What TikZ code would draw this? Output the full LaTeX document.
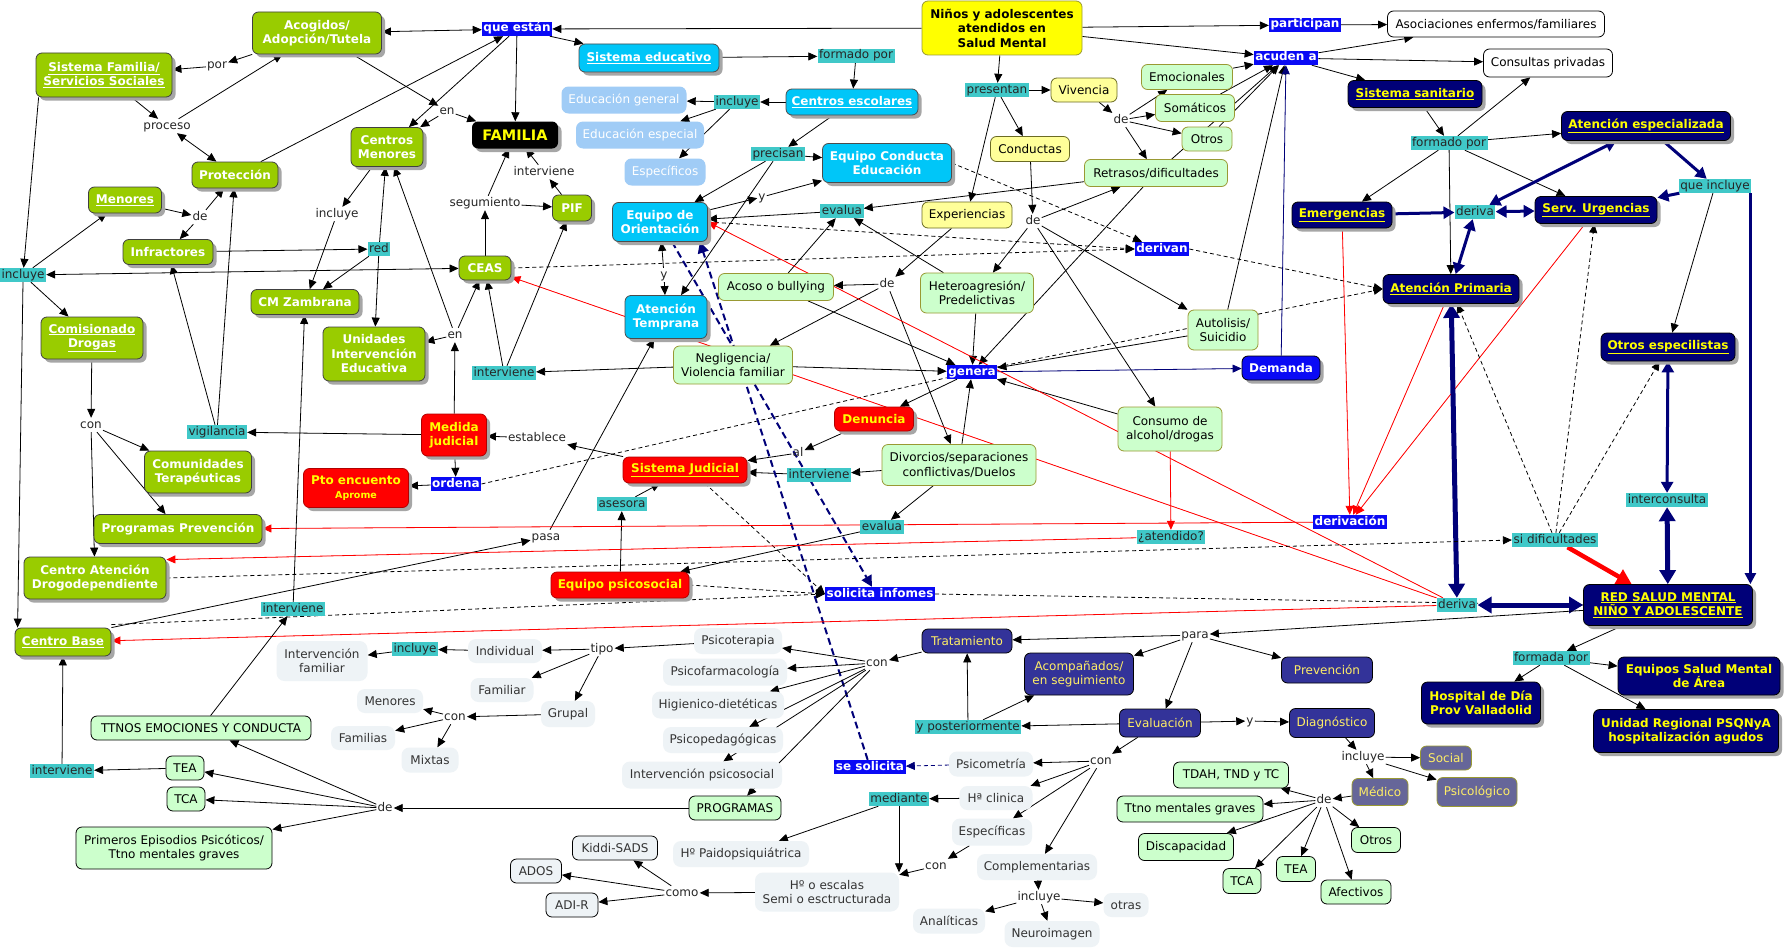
\documentclass[tikz,border=0pt]{standalone}
\usepackage{fontspec}
\setmainfont{DejaVu Sans}
\usetikzlibrary{arrows.meta,shadows,backgrounds}
\definecolor{cgreen}{HTML}{99CC00}
\definecolor{ccyan}{HTML}{00C6F8}
\definecolor{clblue}{HTML}{A0CCF6}
\definecolor{cyellow}{HTML}{FFFF00}
\definecolor{clyellow}{HTML}{FFFF99}
\definecolor{clgreen}{HTML}{CCFFCC}
\definecolor{colive}{HTML}{999933}
\definecolor{cred}{HTML}{FF0000}
\definecolor{cnavy}{HTML}{000078}
\definecolor{cmnavy}{HTML}{333399}
\definecolor{cgp}{HTML}{666699}
\definecolor{cpale}{HTML}{EEF3F6}
\definecolor{cteal}{HTML}{40C8C8}
\definecolor{cblue}{HTML}{0A0AF5}
\definecolor{cyel}{HTML}{FFFF00}
\definecolor{cyelb}{HTML}{FFEE66}
\newcommand\fs{\fontsize{12}{14.5}\selectfont}
\newcommand\bfs{\fontsize{12}{14.5}\selectfont\bfseries}
\newcommand\bfam{\fontsize{14.5}{17}\selectfont\bfseries}
\newcommand\mkC[7]{\node[#1,minimum width=#5pt,minimum height=#6pt] (#2) at (#3,#4) {#7};}
\newcommand\mkL[5]{\node[#1] (#2) at (#3,#4) {#5};}
\tikzset{
 con/.style={rounded corners=6pt,align=center,inner sep=2pt,font=\fs},
 shad/.style={drop shadow={shadow xshift=3.5pt,shadow yshift=-3.5pt,fill=black!35,opacity=1}},
 gC/.style={con,shad,fill=cgreen,draw=black!75,line width=0.8pt,text=white,font=\bfs},
 cyC/.style={con,shad,fill=ccyan,draw=black!70,line width=0.8pt,text=white,font=\bfs},
 lbC/.style={con,fill=clblue,text=white,rounded corners=7pt},
 yC/.style={con,fill=cyellow,draw=colive,line width=0.8pt,text=black,font=\bfs},
 lyC/.style={con,fill=clyellow,draw=colive!70!black,line width=0.8pt,text=black},
 lgC/.style={con,fill=clgreen,draw=colive,line width=0.8pt,text=black},
 lgkC/.style={con,fill=clgreen,draw=black,line width=0.8pt,text=black},
 rC/.style={con,shad,fill=cred,draw=cred!70!black,line width=0.8pt,text=cyel,font=\bfs},
 nC/.style={con,shad,fill=cnavy,draw=black,line width=0.8pt,text=cyel,font=\bfs},
 mnC/.style={con,fill=cmnavy,draw=black,line width=0.8pt,text=cyelb},
 gpC/.style={con,fill=cgp,draw=colive,line width=0.8pt,text=cyelb},
 wC/.style={con,fill=white,draw=black,line width=0.8pt,text=black},
 pC/.style={con,fill=cpale,text=black!80,rounded corners=8pt},
 pkC/.style={con,fill=cpale,draw=black,line width=0.8pt,text=black!80},
 kC/.style={con,shad,fill=black,text=cyel,font=\bfam},
 bC/.style={con,shad,fill=cblue,draw=black,line width=0.8pt,text=white,font=\bfs},
 lt/.style={fill=cteal,inner xsep=1.5pt,inner ysep=1pt,text height=9pt,text depth=3pt,font=\fs,text=black!85},
 lb/.style={fill=cblue,inner xsep=1.5pt,inner ysep=1pt,text height=9pt,text depth=3pt,font=\bfs,text=white},
 lp/.style={inner xsep=1pt,inner ysep=1pt,text height=9pt,text depth=3pt,font=\fs,text=black!85},
 ar/.style={draw=black,line width=0.8pt,-{Triangle[length=9pt,width=8pt]}},
 ar2/.style={draw=black,line width=0.8pt,{Triangle[length=9pt,width=8pt]}-{Triangle[length=9pt,width=8pt]}},
 dar/.style={ar,dash pattern=on 4pt off 3pt},
 dln/.style={draw=black,line width=0.8pt,dash pattern=on 4pt off 3pt},
 rar/.style={draw=cred,line width=0.8pt,-{Triangle[length=9pt,width=8pt]},fill=cred},
 arn/.style={draw=cnavy,line width=0.8pt,-{Triangle[length=9pt,width=8pt]},fill=cnavy},
 nav/.style={draw=cnavy,line width=3pt,-{Triangle[length=11pt,width=12pt]}},
 nav2/.style={draw=cnavy,line width=3pt,{Triangle[length=11pt,width=12pt]}-{Triangle[length=11pt,width=12pt]}},
 navb2/.style={draw=cnavy,line width=5pt,{Triangle[length=14pt,width=16pt]}-{Triangle[length=14pt,width=16pt]}},
 navd/.style={draw=cnavy,line width=2pt,dash pattern=on 7pt off 4pt,-{Triangle[length=11pt,width=11pt]}},
 navdt/.style={draw=cnavy,line width=0.8pt,dash pattern=on 4pt off 3pt,-{Triangle[length=9pt,width=8pt]}},
 rthick/.style={draw=cred,line width=4.5pt,-{Triangle[length=15pt,width=16pt]}},
}
\begin{document}
\begin{tikzpicture}[x=1pt,y=-1pt]
\useasboundingbox (0,0) rectangle (1785,950);
% ---- green concepts
\mkC{gC}{acog}{317}{33}{129}{42}{Acogidos/\\Adopción/Tutela}
\mkC{gC}{sfam}{104}{75}{136}{44}{\underline{Sistema Familia/}\\\underline{Servicios Sociales}}
\mkC{gC}{prot}{235}{175}{86}{26}{Protección}
\mkC{gC}{cmen}{387}{147}{72}{39}{Centros\\Menores}
\mkC{gC}{menores}{125}{200}{73}{26}{\underline{Menores}}
\mkC{gC}{infr}{168}{252}{90}{25}{Infractores}
\mkC{gC}{cmz}{305}{302}{108}{25}{CM Zambrana}
\mkC{gC}{ceas}{485}{268}{52}{24}{CEAS}
\mkC{gC}{pif}{572}{208}{39}{26}{PIF}
\mkC{gC}{comis}{92}{338}{102}{42}{\underline{Comisionado}\\\underline{Drogas}}
\mkC{gC}{uie}{374}{354}{102}{54}{Unidades\\Intervención\\Educativa}
\mkC{gC}{comt}{198}{472}{107}{42}{Comunidades\\Terapéuticas}
\mkC{gC}{progp}{178}{529}{168}{29}{Programas Prevención}
\mkC{gC}{cad}{95}{578}{142}{42}{Centro Atención\\Drogodependiente}
\mkC{gC}{cbase}{63}{642}{96}{28}{\underline{Centro Base}}
\mkC{kC}{familia}{515}{135}{86}{27}{FAMILIA}
% ---- cyan
\mkC{cyC}{sised}{649}{58}{140}{28}{\underline{Sistema educativo}}
\mkC{cyC}{cesc}{852}{102}{132}{26}{\underline{Centros escolares}}
\mkC{cyC}{ece}{887}{163}{129}{39}{Equipo Conducta\\Educación}
\mkC{cyC}{eo}{660}{222}{95}{39}{Equipo de\\Orientación}
\mkC{cyC}{at}{666}{317}{82}{43}{Atención\\Temprana}
\mkC{lbC}{edg}{624}{100}{125}{27}{Educación general}
\mkC{lbC}{ede}{640}{135}{128}{27}{Educación especial}
\mkC{lbC}{espec}{665}{172}{81}{27}{Específicos}
% ---- yellow
\mkC{yC}{ninos}{1002}{28}{160}{54}{Niños y adolescentes\\atendidos en\\Salud Mental}
\mkC{lyC}{viv}{1084}{90}{66}{24}{Vivencia}
\mkC{lyC}{cond}{1030}{149}{79}{25}{Conductas}
\mkC{lyC}{exper}{967}{215}{90}{26}{Experiencias}
% ---- light green
\mkC{lgC}{emoc}{1187}{77}{91}{25}{Emocionales}
\mkC{lgC}{somat}{1195}{108}{79}{27}{Somáticos}
\mkC{lgC}{otros1}{1207}{139}{50}{24}{Otros}
\mkC{lgC}{retr}{1156}{173}{143}{27}{Retrasos/dificultades}
\mkC{lgC}{acoso}{776}{287}{115}{27}{Acoso o bullying}
\mkC{lgC}{hetero}{977}{293}{113}{40}{Heteroagresión/\\Predelictivas}
\mkC{lgC}{autol}{1223}{330}{70}{40}{Autolisis/\\Suicidio}
\mkC{lgC}{negl}{733}{365}{119}{38}{Negligencia/\\Violencia familiar}
\mkC{lgC}{divor}{959}{465}{154}{41}{Divorcios/separaciones\\conflictivas/Duelos}
\mkC{lgC}{consumo}{1170}{429}{104}{44}{Consumo de\\alcohol/drogas}
\mkC{lgkC}{ttnos}{201}{728}{220}{24}{TTNOS EMOCIONES Y CONDUCTA}
\mkC{lgkC}{tea1}{185}{768}{38}{24}{TEA}
\mkC{lgkC}{tca1}{186}{799}{38}{24}{TCA}
\mkC{lgkC}{prim}{174}{848}{196}{42}{Primeros Episodios Psicóticos/\\Ttno mentales graves}
\mkC{lgkC}{progr}{735}{808}{92}{24}{PROGRAMAS}
\mkC{lgkC}{tdah}{1231}{775}{115}{26}{TDAH, TND y TC}
\mkC{lgkC}{ttnom}{1190}{809}{146}{26}{Ttno mentales graves}
\mkC{lgkC}{discap}{1186}{847}{95}{27}{Discapacidad}
\mkC{lgkC}{tca2}{1242}{881}{38}{25}{TCA}
\mkC{lgkC}{tea2}{1296}{869}{39}{25}{TEA}
\mkC{lgkC}{afect}{1356}{892}{70}{24}{Afectivos}
\mkC{lgkC}{otros2}{1376}{840}{49}{25}{Otros}
% ---- red
\mkC{rC}{medj}{454}{435}{65}{42}{Medida\\judicial}
\mkC{rC}{pto}{356}{488}{105}{39}{Pto encuento\\{\fontsize{9.5}{11}\selectfont Aprome}}
\mkC{rC}{denun}{874}{419}{79}{24}{Denuncia}
\mkC{rC}{sjud}{685}{470}{124}{26}{\underline{Sistema Judicial}}
\mkC{rC}{epsic}{620}{585}{138}{26}{Equipo psicosocial}
\mkC{bC}{demanda}{1281}{368}{78}{24}{Demanda}
% ---- white
\mkC{wC}{asoc}{1496}{24}{217}{26}{Asociaciones enfermos/familiares}
\mkC{wC}{consp}{1548}{63}{129}{28}{Consultas privadas}
% ---- navy
\mkC{nC}{ssan}{1415}{94}{134}{27}{\underline{Sistema sanitario}}
\mkC{nC}{aesp}{1646}{126}{169}{29}{\underline{Atención especializada}}
\mkC{nC}{emerg}{1342}{215}{100}{26}{\underline{Emergencias}}
\mkC{nC}{surg}{1596}{210}{122}{27}{\underline{Serv. Urgencias}}
\mkC{nC}{aprim}{1451}{289}{136}{29}{\underline{Atención Primaria}}
\mkC{nC}{oesp}{1668}{347}{134}{28}{\underline{Otros especilistas}}
\mkC{nC}{red}{1668}{605}{169}{41}{\underline{RED SALUD MENTAL}\\\underline{NIÑO Y ADOLESCENTE}}
\mkC{nC}{esm}{1699}{676}{162}{38}{Equipos Salud Mental\\de Área}
\mkC{nC}{hdia}{1481}{703}{119}{42}{Hospital de Día\\Prov Valladolid}
\mkC{nC}{ureg}{1686}{731}{185}{43}{Unidad Regional PSQNyA\\hospitalización agudos}
\mkC{mnC}{trat}{967}{641}{90}{24}{Tratamiento}
\mkC{mnC}{acomp}{1079}{674}{109}{42}{Acompañados/\\en seguimiento}
\mkC{mnC}{evalu}{1160}{723}{81}{28}{Evaluación}
\mkC{mnC}{diagn}{1332}{723}{85}{29}{Diagnóstico}
\mkC{mnC}{prev}{1327}{670}{91}{26}{Prevención}
\mkC{gpC}{social}{1446}{758}{51}{24}{Social}
\mkC{gpC}{medico}{1380}{792}{56}{27}{Médico}
\mkC{gpC}{psicol}{1477}{792}{80}{29}{Psicológico}
% ---- pale
\mkC{pC}{intfam}{322}{661}{91}{40}{Intervención\\familiar}
\mkC{pC}{gmen}{390}{701}{66}{24}{Menores}
\mkC{pC}{gfam}{363}{738}{64}{24}{Familias}
\mkC{pC}{gmix}{430}{760}{57}{25}{Mixtas}
\mkC{pC}{indiv}{505}{651}{74}{24}{Individual}
\mkC{pC}{gfamiliar}{502}{690}{63}{24}{Familiar}
\mkC{pC}{grupal}{568}{714}{54}{26}{Grupal}
\mkC{pC}{psicot}{738}{641}{88}{26}{Psicoterapia}
\mkC{pC}{psicof}{725}{672}{124}{27}{Psicofarmacología}
\mkC{pC}{higien}{718}{705}{132}{27}{Higienico-dietéticas}
\mkC{pC}{psicop}{723}{740}{120}{26}{Psicopedagógicas}
\mkC{pC}{intps}{702}{775}{160}{27}{Intervención psicosocial}
\mkC{pC}{hpaido}{741}{854}{136}{26}{Hº Paidopsiquiátrica}
\mkC{pC}{hesc}{827}{892}{144}{39}{Hº o escalas\\Semi o esctructurada}
\mkC{pC}{psicom}{991}{764}{84}{25}{Psicometría}
\mkC{pC}{hclin}{996}{798}{73}{24}{Hª clinica}
\mkC{pC}{especif}{992}{832}{80}{27}{Específicas}
\mkC{pC}{compl}{1037}{867}{120}{26}{Complementarias}
\mkC{pC}{otras}{1126}{905}{45}{24}{otras}
\mkC{pC}{analit}{949}{921}{72}{25}{Analíticas}
\mkC{pC}{neuro}{1052}{934}{95}{26}{Neuroimagen}
\mkC{pkC}{kiddi}{615}{848}{85}{24}{Kiddi-SADS}
\mkC{pkC}{ados}{536}{871}{51}{24}{ADOS}
\mkC{pkC}{adir}{572}{905}{52}{24}{ADI-R}
% ---- linking phrases teal
\mkL{lt}{incl1}{23}{275}{incluye}
\mkL{lt}{red1}{379}{249}{red}
\mkL{lt}{precisan}{778}{154}{precisan}
\mkL{lt}{incl2}{737}{102}{incluye}
\mkL{lt}{formado1}{856}{56}{formado por}
\mkL{lt}{evalua1}{842}{211}{evalua}
\mkL{lt}{presentan}{997}{90}{presentan}
\mkL{lt}{vigil}{217}{432}{vigilancia}
\mkL{lt}{interv1}{504}{373}{interviene}
\mkL{lt}{asesora}{622}{504}{asesora}
\mkL{lt}{interv2}{819}{475}{interviene}
\mkL{lt}{evalua2}{882}{527}{evalua}
\mkL{lt}{atend}{1171}{537}{¿atendido?}
\mkL{lt}{interv3}{293}{609}{interviene}
\mkL{lt}{interv4}{62}{771}{interviene}
\mkL{lt}{incl3}{415}{649}{incluye}
\mkL{lt}{ypost}{968}{727}{y posteriormente}
\mkL{lt}{mediante}{899}{799}{mediante}
\mkL{lt}{formado2}{1449}{143}{formado por}
\mkL{lt}{deriva1}{1475}{212}{deriva}
\mkL{lt}{queincl}{1715}{186}{que incluye}
\mkL{lt}{interc}{1667}{500}{interconsulta}
\mkL{lt}{sidif}{1555}{540}{si dificultades}
\mkL{lt}{deriva2}{1457}{605}{deriva}
\mkL{lt}{formada}{1551}{658}{formada por}
% ---- blue phrases
\mkL{lb}{queestan}{517}{29}{que están}
\mkL{lb}{particip}{1305}{25}{participan}
\mkL{lb}{acuden}{1286}{58}{acuden a}
\mkL{lb}{derivan}{1162}{249}{derivan}
\mkL{lb}{genera}{972}{372}{genera}
\mkL{lb}{ordena}{456}{484}{ordena}
\mkL{lb}{solic}{880}{594}{solicita infomes}
\mkL{lb}{derivac}{1350}{522}{derivación}
\mkL{lb}{sesol}{870}{767}{se solicita}
% ---- plain phrases
\mkL{lp}{por}{217}{66}{por}
\mkL{lp}{proceso}{167}{126}{proceso}
\mkL{lp}{de1}{200}{217}{de}
\mkL{lp}{incl4}{337}{214}{incluye}
\mkL{lp}{en1}{447}{111}{en}
\mkL{lp}{intervp}{544}{172}{interviene}
\mkL{lp}{segum}{485}{203}{segumiento}
\mkL{lp}{y1}{762}{197}{y}
\mkL{lp}{y2}{664}{275}{y}
\mkL{lp}{de2}{887}{284}{de}
\mkL{lp}{de3}{1121}{120}{de}
\mkL{lp}{de4}{1033}{221}{de}
\mkL{lp}{en2}{455}{335}{en}
\mkL{lp}{establece}{537}{438}{establece}
\mkL{lp}{al}{798}{453}{al}
\mkL{lp}{pasa}{546}{537}{pasa}
\mkL{lp}{con1}{91}{425}{con}
\mkL{lp}{para}{1195}{635}{para}
\mkL{lp}{tipo}{602}{649}{tipo}
\mkL{lp}{con2}{455}{717}{con}
\mkL{lp}{con3}{877}{663}{con}
\mkL{lp}{de5}{385}{808}{de}
\mkL{lp}{como}{682}{893}{como}
\mkL{lp}{con4}{1101}{761}{con}
\mkL{lp}{con5}{936}{866}{con}
\mkL{lp}{incl5}{1039}{897}{incluye}
\mkL{lp}{y3}{1250}{721}{y}
\mkL{lp}{incl6}{1363}{757}{incluye}
\mkL{lp}{de6}{1324}{800}{de}
\begin{pgfonlayer}{background}
\fill[white] (0,0) rectangle (1785,950);
% top-left
\draw[ar] (ninos) -- (queestan);
\draw[ar2] (acog) -- (queestan);
\draw[ar] (queestan) -- (sised);
\draw[ar] (queestan) -- (familia);
\draw[ar] (queestan) -- (cmen);
\draw[ar] (prot) -- (queestan);
\draw[ar] (acog) -- (por);
\draw[ar] (por) -- (sfam);
\draw[ar] (sfam) -- (proceso);
\draw[ar2] (proceso) -- (prot);
\draw[ar] (proceso) -- (acog);
\draw[ar] (acog) -- (en1);
\draw[ar] (en1) -- (familia);
\draw[ar] (en1) -- (cmen);
\draw[ar] ([xshift=3pt]sfam.south west) -- (incl1);
\draw[ar] (incl1) -- (menores);
\draw[ar] (incl1) -- (comis);
\draw[ar] (incl1.south) -- ([xshift=3pt]cbase.north west);
\draw[ar2] (incl1) -- (ceas);
\draw[ar] (menores) -- (de1);
\draw[ar] (de1) -- (prot);
\draw[ar] (de1) -- (infr);
\draw[ar] (infr) -- (red1);
\draw[ar] (cmen) -- (incl4);
\draw[ar] (incl4) -- (cmz);
\draw[ar] (red1) -- (cmz);
\draw[ar] (red1) -- (cmen);
\draw[ar] (red1) -- (uie);
\draw[ar] (en2) -- (cmen);
\draw[ar] (en2) -- (ceas);
\draw[ar] (en2) -- (uie);
\draw[ar] (medj) -- (en2);
\draw[ar] (ceas) -- (segum);
\draw[ar] (segum) -- (familia);
\draw[ar] (segum) -- (pif);
\draw[ar] (pif) -- (intervp);
\draw[ar] (intervp) -- (familia);
\draw[ar] (interv1) -- (ceas);
\draw[ar] (interv1) -- (pif);
\draw[ar] (negl) -- (interv1);
\draw[ar] (comis) -- (con1);
\draw[ar] (con1) -- (comt);
\draw[ar] (con1) -- (progp);
\draw[ar] (con1) -- (cad);
% education
\draw[ar] (sised) -- (formado1);
\draw[ar] (formado1) -- (cesc);
\draw[ar] (cesc) -- (incl2);
\draw[ar] (incl2) -- (edg);
\draw[ar] (incl2) -- (ede);
\draw[ar] (incl2) -- (espec);
\draw[ar] (cesc) -- (precisan);
\draw[ar] (precisan) -- (ece);
\draw[ar] (precisan) -- (eo);
\draw[ar] (precisan) -- (at);
\draw[ar] (eo) -- (y1);
\draw[ar] (y1) -- (ece);
\draw[ar] (y2) -- (eo);
\draw[ar] (y2) -- (at);
\draw[ar] (evalua1) -- (eo);
\draw[ar] (retr) -- (evalua1);
\draw[ar] (acoso) -- (evalua1);
\draw[ar] (hetero) -- (evalua1);
\draw[dar] (ece.east) -- ([xshift=-20pt]derivan.north);
\draw[dar] (eo.east) -- (derivan.west);
\draw[dar] (ceas.east) -- (derivan.west);
\draw[dar] (derivan.east) -- (aprim.west);
\draw[dar] (genera) -- (aprim.west);
\draw[dln] (ordena.east) -- (genera);
% center
\draw[ar] (ninos) -- (presentan);
\draw[ar] (ninos) -- (particip);
\draw[ar] (ninos) -- (acuden);
\draw[ar] (particip) -- (asoc);
\draw[ar] (acuden) -- (asoc);
\draw[ar] (acuden) -- (consp);
\draw[ar] (acuden) -- (ssan);
\draw[ar] (presentan) -- (viv);
\draw[ar] (presentan) -- (cond);
\draw[ar] (presentan) -- (exper);
\draw[ar] (viv) -- (de3);
\draw[ar] (de3) -- (emoc);
\draw[ar] (de3) -- (somat);
\draw[ar] (de3) -- (otros1);
\draw[ar] (de3) -- (retr);
\draw[ar] (emoc) -- (acuden);
\draw[ar] (somat) -- (acuden);
\draw[ar] (otros1) -- (acuden);
\draw[ar] (retr) -- (acuden);
\draw[ar] (autol) -- (acuden);
\draw[ar] (cond) -- (de4);
\draw[ar] (de4) -- (retr);
\draw[ar] (de4) -- (hetero);
\draw[ar] (de4) -- (autol);
\draw[ar] (de4) -- (consumo);
\draw[ar] (exper) -- (de2);
\draw[ar] (de2) -- (acoso);
\draw[ar] (de2) -- (negl);
\draw[ar] (de2) -- (divor);
\draw[ar] (negl) -- (genera);
\draw[ar] (acoso) -- (genera);
\draw[ar] (hetero) -- (genera);
\draw[ar] (retr) -- (genera);
\draw[ar] (consumo) -- (genera);
\draw[ar] (autol) -- (genera);
\draw[ar] (divor) -- (genera);
\draw[ar] (genera) -- (denun);
\draw[arn] (genera) -- (demanda);
\draw[arn] (demanda) -- (acuden);
\draw[ar] (denun) -- (al);
\draw[ar] (al) -- (sjud);
\draw[ar] (divor) -- (interv2);
\draw[ar] (interv2) -- (sjud);
\draw[ar] (divor) -- (evalua2);
\draw[ar] (evalua2) -- (epsic);
\draw[ar] (sjud) -- (establece);
\draw[ar] (establece) -- (medj);
\draw[ar] (medj) -- (vigil);
\draw[ar] (vigil) -- (infr);
\draw[ar] (vigil) -- (prot);
\draw[ar] (medj) -- (ordena);
\draw[ar] (ordena) -- (pto);
\draw[ar] (epsic) -- (asesora);
\draw[ar] (asesora) -- (sjud);
\draw[ar] (cbase.north east) -- (pasa);
\draw[ar] (pasa) -- (at);
\draw[dar] ([yshift=3pt]cbase.north east) -- (solic.west);
\draw[dar] (epsic.east) -- (solic.west);
\draw[dar] ([xshift=20pt]sjud.south) -- (solic.west);
\draw[dar] (solic.east) -- (red.west);
\draw[navd] ([xshift=12pt]eo.south) -- ([xshift=-8pt]solic.north);
\draw[navd] (sesol) -- ([xshift=-8pt]eo.south east);
\draw[navdt] (psicom) -- (sesol);
% red
\draw[rar] (deriva2) -- (ceas);
\draw[rar] (deriva2) -- (eo.east);
\draw[rar] (deriva2) -- (cbase);
\draw[rar] (derivac) -- (progp);
\draw[rar] (consumo) -- (atend);
\draw[rar] (atend) -- ([yshift=-3pt]cad.north east);
\draw[rar] (emerg) -- (derivac);
\draw[rar] (aprim) -- (derivac);
\draw[rar] (surg) -- (derivac);
% health system
\draw[ar] (ssan) -- (formado2);
\draw[ar] (formado2) -- (consp);
\draw[ar] (formado2) -- (aesp);
\draw[ar] (formado2) -- (emerg);
\draw[ar] (formado2) -- (surg);
\draw[ar] (formado2) -- (aprim);
\draw[nav] (emerg) -- (deriva1);
\draw[nav2] (deriva1) -- (surg);
\draw[nav2] (deriva1) -- (aesp);
\draw[nav2] (deriva1) -- (aprim);
\draw[nav] (aesp) -- (queincl);
\draw[nav] (queincl) -- (surg);
\draw[ar] (queincl) -- (oesp);
\draw[draw=cnavy,line width=2.5pt,-{Triangle[length=11pt,width=11pt]}] ([xshift=-1pt]queincl.south east) -- ([xshift=-1pt]queincl.south east |- red.north);
\draw[navb2] (aprim) -- (deriva2);
\draw[navb2] (deriva2) -- (red);
\draw[navb2] (interc) -- (red);
\draw[nav2] (oesp) -- (interc);
\draw[rthick] (sidif) -- (red);
\draw[dar] (sidif) -- (aprim);
\draw[dar] (sidif) -- (surg);
\draw[dar] (sidif) -- (oesp);
\draw[dar] (cad.east) -- (sidif.west);
% bottom
\draw[ar] (red) -- (formada);
\draw[ar] (formada) -- (esm);
\draw[ar] (formada) -- (hdia);
\draw[ar] (formada) -- (ureg);
\draw[ar] (red) -- (para);
\draw[ar] (para) -- (trat);
\draw[ar] (para) -- (acomp);
\draw[ar] (para) -- (evalu);
\draw[ar] (para) -- (prev);
\draw[ar] (evalu) -- (ypost);
\draw[ar] (ypost) -- (trat);
\draw[ar] (ypost) -- (acomp);
\draw[ar] (evalu) -- (y3);
\draw[ar] (y3) -- (diagn);
\draw[ar] (evalu) -- (con4);
\draw[ar] (con4) -- (psicom);
\draw[ar] (con4) -- (hclin);
\draw[ar] (con4) -- (especif);
\draw[ar] (con4) -- (compl);
\draw[ar] (hclin) -- (mediante);
\draw[ar] (mediante) -- (hpaido);
\draw[ar] (mediante.south) -- (mediante.south |- hesc.north);
\draw[ar] (especif) -- (con5);
\draw[ar] (con5) -- (hesc);
\draw[ar] (compl) -- (incl5);
\draw[ar] (incl5) -- (analit);
\draw[ar] (incl5) -- (neuro);
\draw[ar] (incl5) -- (otras);
\draw[ar] (hesc) -- (como);
\draw[ar] (como) -- (kiddi);
\draw[ar] (como) -- (ados);
\draw[ar] (como) -- (adir);
\draw[ar] (diagn) -- (incl6);
\draw[ar] (incl6) -- (social);
\draw[ar] (incl6) -- (medico);
\draw[ar] (incl6) -- (psicol);
\draw[ar] (medico) -- (de6);
\draw[ar] (de6) -- (tdah);
\draw[ar] (de6) -- (ttnom);
\draw[ar] (de6) -- (discap);
\draw[ar] (de6) -- (tca2);
\draw[ar] (de6) -- (tea2);
\draw[ar] (de6) -- (otros2);
\draw[ar] (de6) -- (afect);
\draw[ar] (trat) -- (con3);
\draw[ar] (con3) -- (psicot);
\draw[ar] (con3) -- (psicof);
\draw[ar] (con3) -- (higien);
\draw[ar] (con3) -- (psicop);
\draw[ar] (con3) -- (intps);
\draw[ar] (con3) -- (progr);
\draw[ar] (psicot) -- (tipo);
\draw[ar] (tipo) -- (indiv);
\draw[ar] (tipo) -- (gfamiliar);
\draw[ar] (tipo) -- (grupal);
\draw[ar] (indiv) -- (incl3);
\draw[ar] (incl3) -- (intfam);
\draw[ar] (grupal) -- (con2);
\draw[ar] (con2) -- (gmen);
\draw[ar] (con2) -- (gfam);
\draw[ar] (con2) -- (gmix);
\draw[ar] (progr) -- (de5);
\draw[ar] (de5) -- (ttnos);
\draw[ar] (de5) -- (tea1);
\draw[ar] (de5) -- (tca1);
\draw[ar] (de5) -- (prim);
\draw[ar] (tea1) -- (interv4);
\draw[ar] (interv4) -- (cbase);
\draw[ar] (ttnos) -- (interv3);
\draw[ar] (interv3) -- (cmz);
\end{pgfonlayer}
\end{tikzpicture}
\end{document}
